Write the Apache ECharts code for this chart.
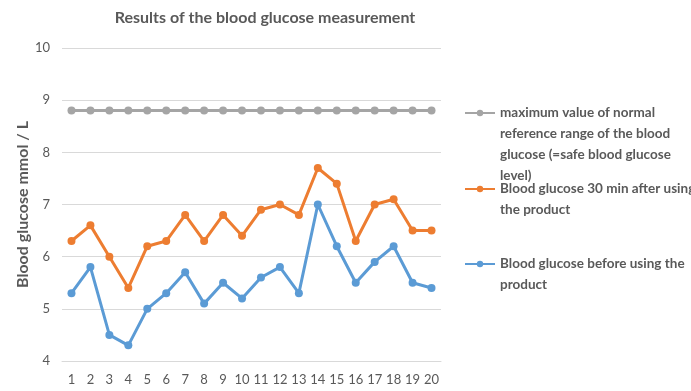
<!DOCTYPE html>
<html><head><meta charset="utf-8">
<script src="https://cdn.jsdelivr.net/npm/echarts@6/dist/echarts.min.js"></script>
<style>html,body{margin:0;padding:0;background:#fff}#c{width:691px;height:391px}</style>
</head><body><div id="c"></div>
<script>
const categories = ['1','2','3','4','5','6','7','8','9','10','11','12','13','14','15','16','17','18','19','20'];
const safeMax = [8.8,8.8,8.8,8.8,8.8,8.8,8.8,8.8,8.8,8.8,8.8,8.8,8.8,8.8,8.8,8.8,8.8,8.8,8.8,8.8];
const after30 = [6.3,6.6,6.0,5.4,6.2,6.3,6.8,6.3,6.8,6.4,6.9,7.0,6.8,7.7,7.4,6.3,7.0,7.1,6.5,6.5];
const before = [5.3,5.8,4.5,4.3,5.0,5.3,5.7,5.1,5.5,5.2,5.6,5.8,5.3,7.0,6.2,5.5,5.9,6.2,5.5,5.4];
const names = [
  'maximum value of normal reference range of the blood glucose (=safe blood glucose level)',
  'Blood glucose 30 min after using the product',
  'Blood glucose before using the product'
];
const legendLines = {};
legendLines[names[0]] = ['maximum value of normal', 'reference range of the blood', 'glucose (=safe blood glucose', 'level)'];
legendLines[names[1]] = ['Blood glucose 30 min after using', 'the product'];
legendLines[names[2]] = ['Blood glucose before using the', 'product'];
const yTicks = {min: 4, max: 10, interval: 1};

const FONT = 'Lato';
const LH = 21;
function mkLegend(name, iconY) {
  const n = legendLines[name].length;
  return {
    data: [name], orient: 'vertical', left: 464, top: iconY - (2 * n - 1) * LH / 2, padding: 0,
    itemWidth: 30, itemHeight: 8, selectedMode: false,
    formatter: nm => '\n'.repeat(legendLines[nm].length - 1) + legendLines[nm].join('\n'),
    lineStyle: {width: 2},
    textStyle: {fontFamily: FONT, fontSize: 13.5, fontWeight: 'bold', color: '#595959', lineHeight: LH}
  };
}
const colors = ['#A5A5A5', '#ED7D31', '#5B9BD5'];
const chart = echarts.init(document.getElementById('c'));
chart.setOption({
  animation: false,
  color: colors,
  title: {text: 'Results of the blood glucose measurement', left: 260, textAlign: 'center', top: 5,
    textStyle: {fontFamily: FONT, fontSize: 16, fontWeight: 'bold', color: '#595959'}},
  legend: [mkLegend(names[0], 113), mkLegend(names[1], 189), mkLegend(names[2], 264)],
  grid: {left: 62, right: 250, top: 48, bottom: 30, containLabel: false},
  xAxis: {type: 'category', data: categories, boundaryGap: true,
    axisLine: {show: true, lineStyle: {color: '#D9D9D9'}}, axisTick: {show: false},
    axisLabel: {fontFamily: FONT, fontSize: 13, color: '#595959', margin: 12, interval: 0}},
  yAxis: {type: 'value', min: yTicks.min, max: yTicks.max, interval: yTicks.interval,
    name: 'Blood glucose mmol / L', nameLocation: 'middle', nameGap: 31, nameRotate: 90,
    nameMoveOverlap: false,
    nameTextStyle: {fontFamily: FONT, fontSize: 16, fontWeight: 'bold', color: '#595959'},
    axisLine: {show: false}, axisTick: {show: false},
    splitLine: {lineStyle: {color: '#D9D9D9', width: 1}},
    axisLabel: {fontFamily: FONT, fontSize: 13, color: '#595959', margin: 12}},
  series: [
    {name: names[0], type: 'line', data: safeMax, symbol: 'circle', symbolSize: 8, lineStyle: {width: 3}},
    {name: names[1], type: 'line', data: after30, symbol: 'circle', symbolSize: 8, lineStyle: {width: 3}},
    {name: names[2], type: 'line', data: before, symbol: 'circle', symbolSize: 8, lineStyle: {width: 3}}
  ]
});
</script></body></html>
